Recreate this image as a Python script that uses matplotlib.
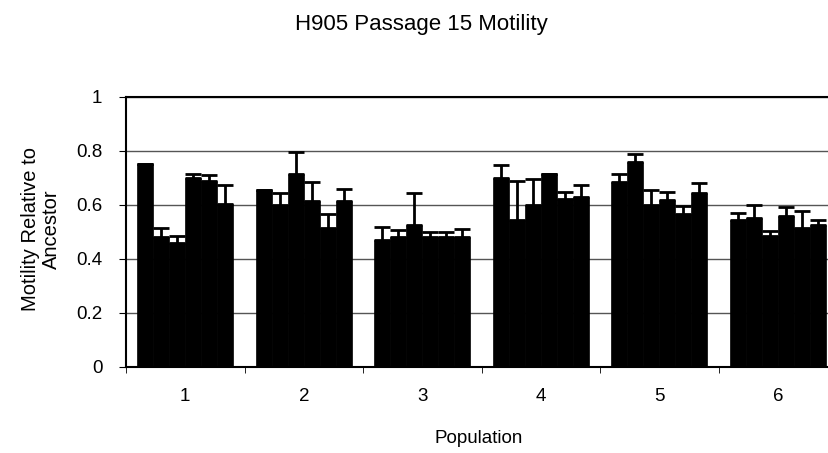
import numpy as np
import matplotlib
matplotlib.use('Agg')
import matplotlib.pyplot as plt

plt.rcParams['font.family'] = ['Liberation Sans', 'DejaVu Sans']

# populations and per-replicate motility values (6 lines per population)
populations = ['1', '2', '3', '4', '5', '6']
motility = [
    [0.75, 0.48, 0.46, 0.70, 0.69, 0.605],
    [0.655, 0.60, 0.715, 0.615, 0.515, 0.615],
    [0.47, 0.48, 0.525, 0.48, 0.48, 0.48],
    [0.70, 0.545, 0.60, 0.713, 0.623, 0.63],
    [0.685, 0.76, 0.60, 0.617, 0.565, 0.644],
    [0.543, 0.55, 0.485, 0.558, 0.516, 0.525],
]
errors = [
    [0.0, 0.035, 0.025, 0.015, 0.02, 0.07],
    [0.0, 0.045, 0.08, 0.07, 0.05, 0.045],
    [0.05, 0.026, 0.118, 0.02, 0.02, 0.032],
    [0.047, 0.145, 0.095, 0.0, 0.025, 0.043],
    [0.028, 0.028, 0.054, 0.031, 0.03, 0.036],
    [0.027, 0.05, 0.02, 0.035, 0.062, 0.021],
]

fig = plt.figure(figsize=(8.29, 4.53), dpi=100)
ax = fig.add_axes([0.152, 0.190, 0.858, 0.596])

n = len(motility[0])
width = 0.135
x = np.arange(len(populations))
for j in range(n):
    vals = [row[j] for row in motility]
    errs = [row[j] for row in errors]
    pos = x + (j - (n - 1) / 2) * width
    ax.bar(pos, vals, width, color='black', edgecolor='black', linewidth=0.5, zorder=2)
    ax.errorbar(pos, vals, yerr=[np.zeros(len(errs)), errs], fmt='none',
                ecolor='black', elinewidth=2, capsize=5.5, capthick=2, zorder=3)

ax.set_xlim(-0.5, len(populations) - 0.5)
ax.set_ylim(0, 1)
ax.set_yticks(np.arange(0, 1.01, 0.2))
ax.set_yticklabels(['0', '0.2', '0.4', '0.6', '0.8', '1'])
ax.set_xticks(x)
ax.set_xticklabels(populations)
ax.set_xticks(np.arange(-0.5, len(populations), 1), minor=True)
ax.tick_params(axis='x', which='major', length=0, pad=15, labelsize=13.5)
ax.tick_params(axis='x', which='minor', length=4, direction='out')
ax.tick_params(axis='y', length=5, direction='out', labelsize=13.5, pad=12)

ax.grid(axis='y', color='#555555', linewidth=1, zorder=0)
for s in ['left', 'top', 'bottom']:
    ax.spines[s].set_color('black')
    ax.spines[s].set_linewidth(1.5)
ax.spines['right'].set_visible(False)

fig.text(0.0495, 0.494, 'Motility Relative to\nAncestor', rotation=90,
         ha='center', va='center', fontsize=14.5, linespacing=1.15)
fig.text(0.578, 0.033, 'Population', ha='center', va='center', fontsize=13.5)
fig.text(0.508, 0.947, 'H905 Passage 15 Motility', ha='center', va='center', fontsize=16)

plt.savefig('out.png', dpi=100)
